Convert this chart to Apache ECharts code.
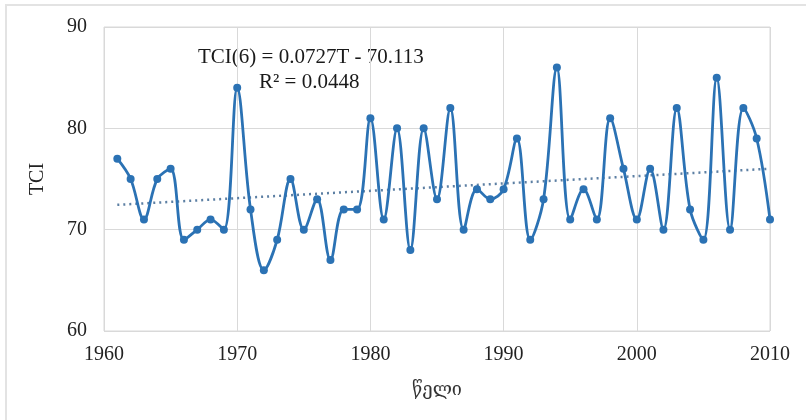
<!DOCTYPE html>
<html>
<head>
<meta charset="utf-8">
<script src="https://cdn.jsdelivr.net/npm/echarts@6/dist/echarts.min.js"></script>
<style>
	html, body { margin: 0; padding: 0; background: #fff; }
	#chart { width: 806px; height: 420px; }
</style>
</head>
<body>
<div id="chart"></div>
<script>
// years and TCI values
var years = [1961, 1962, 1963, 1964, 1965, 1966, 1967, 1968, 1969, 1970,
	1971, 1972, 1973, 1974, 1975, 1976, 1977, 1978, 1979, 1980,
	1981, 1982, 1983, 1984, 1985, 1986, 1987, 1988, 1989, 1990,
	1991, 1992, 1993, 1994, 1995, 1996, 1997, 1998, 1999, 2000,
	2001, 2002, 2003, 2004, 2005, 2006, 2007, 2008, 2009, 2010];
var tci = [77, 75, 71, 75, 76, 69, 70, 71, 70, 84,
	72, 66, 69, 75, 70, 73, 67, 72, 72, 81,
	71, 80, 68, 80, 73, 82, 70, 74, 73, 74,
	79, 69, 73, 86, 71, 74, 71, 81, 76, 71,
	76, 70, 82, 72, 69, 85, 70, 82, 79, 71];

// linear trend as printed on the chart
var trendSlope = 0.0727;
var trendIntercept = -70.113;
var trendYears = [1961, 2010];

var equationText = ['TCI(6) = 0.0727T - 70.113', 'R² = 0.0448'];
var yTitle = 'TCI';
var xTitle = 'წელი';

window.onload = function() {
	drawChart();
};

function drawChart(){
	var c = echarts.init(document.getElementById('chart'));
	var pts = years.map(function(y, i){ return [y, tci[i]]; });
	var trend = trendYears.map(function(y){ return [y, trendSlope * y + trendIntercept]; });
	var serif = '"Liberation Serif", "DejaVu Serif", serif';
	var blue = '#2b72b4';

	var opt = {
		animation: false,
		backgroundColor: '#fff',
		grid: { left: 104, top: 27, right: 36, bottom: 89, show: true, borderColor: '#d9d9d9', borderWidth: 1 },
		graphic: [
			{ type: 'rect', shape: { x: 6, y: 5, width: 820, height: 430 }, style: { fill: 'none', stroke: '#e3e3e3', lineWidth: 2 }, z: -1 },
			{ type: 'text', left: 198, top: 47, style: { text: equationText[0], font: '21px ' + serif, fill: '#1a1a1a' } },
			{ type: 'text', left: 259, top: 72, style: { text: equationText[1], font: '21px ' + serif, fill: '#1a1a1a' } }
		],
		xAxis: {
			type: 'value', min: 1960, max: 2010, interval: 10,
			name: xTitle, nameLocation: 'middle', nameGap: 50,
			nameTextStyle: { fontFamily: '"DejaVu Serif", "DejaVu Sans", serif', fontSize: 18, color: '#333' },
			axisLine: { show: false }, axisTick: { show: false },
			axisLabel: { fontFamily: serif, fontSize: 20, color: '#222', margin: 14, formatter: function(v){ return String(v); } },
			splitLine: { show: true, lineStyle: { color: '#d9d9d9', width: 1 } }
		},
		yAxis: {
			type: 'value', min: 60, max: 90, interval: 10,
			name: yTitle, nameLocation: 'middle', nameGap: 56,
			nameTextStyle: { fontFamily: serif, fontSize: 20, color: '#222' },
			axisLine: { show: false }, axisTick: { show: false },
			axisLabel: { fontFamily: serif, fontSize: 20, color: '#222', margin: 17 },
			splitLine: { show: true, lineStyle: { color: '#d9d9d9', width: 1 } }
		},
		series: [
			{
				type: 'line', data: pts, smooth: 0.35,
				symbol: 'circle', symbolSize: 8,
				lineStyle: { color: blue, width: 2.8 },
				itemStyle: { color: blue },
				z: 3
			},
			{
				type: 'line', data: trend, symbol: 'none',
				lineStyle: { color: '#5c7fa3', width: 2.5, type: [2, 4] },
				z: 2
			}
		]
	};
	c.setOption(opt);
}
</script>
</body>
</html>
